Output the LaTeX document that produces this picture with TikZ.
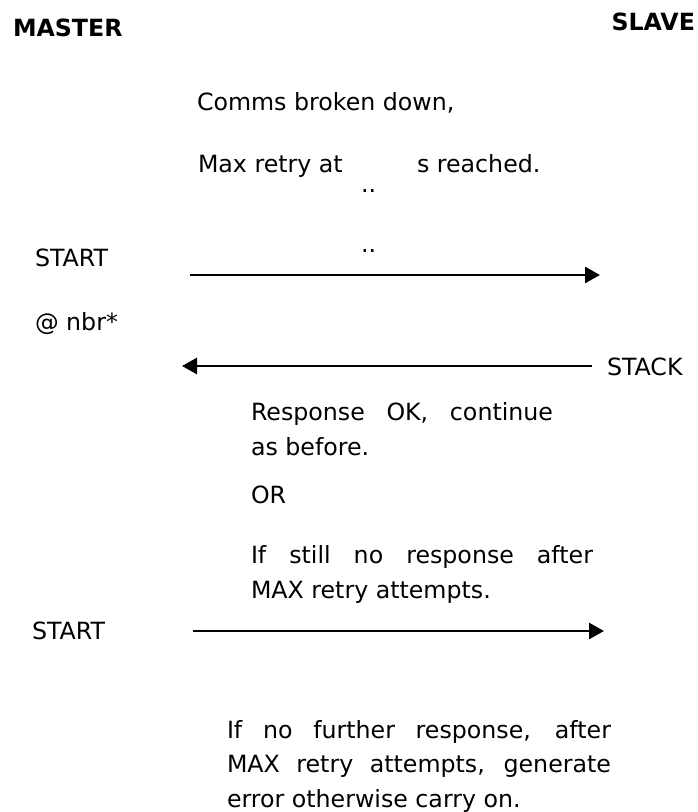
\documentclass[tikz,border=0pt]{standalone}
\usepackage{fontspec}
\setmainfont{DejaVu Sans}
\usetikzlibrary{arrows.meta}
\begin{document}
\begin{tikzpicture}[x=1pt,y=-1pt,
  txt/.style={anchor=base west,inner sep=0pt,outer sep=0pt,font=\fontsize{23.7}{28}\selectfont},
  btxt/.style={inner sep=0pt,outer sep=0pt,font=\fontsize{23.7}{28}\selectfont\bfseries},
  msg/.style={line width=2.6pt,-{Triangle[length=15pt,width=16pt]}}]
\useasboundingbox (0,0) rectangle (698,812);
% headers
\node[btxt,anchor=base west] (master) at (13,36) {MASTER};
\node[btxt,anchor=base east] (slave) at (695,30) {SLAVE};
% first note
\node[txt] (comms) at (197,110) {Comms broken down,};
\node[txt] (maxa) at (198,172) {Max retry at};
\node[txt] (maxb) at (417,172) {s reached.};
\node[txt] (dots1) at (361,192) {..};
\node[txt] (dots2) at (361,252) {..};
% left labels
\node[txt] (start1) at (35,266) {START};
\node[txt] (nbr) at (35,330) {@ nbr*};
\node[txt] (stack) at (607,375) {STACK};
\node[txt] (start2) at (32,639) {START};
% second note
\node[txt] (resp1) at (251,420) {\makebox[302pt][s]{Response OK, continue}};
\node[txt] (resp2) at (251,455) {as before.};
\node[txt] (or) at (251,503) {OR};
\node[txt] (still1) at (251,563) {\makebox[342pt][s]{If still no response after}};
\node[txt] (still2) at (251,598) {MAX retry attempts.};
% final note
\node[txt] (fin1) at (227,738) {\makebox[384pt][s]{If no further response, after}};
\node[txt] (fin2) at (227,772) {\makebox[384pt][s]{MAX retry attempts, generate}};
\node[txt] (fin3) at (227,807) {error otherwise carry on.};
% connectors
\coordinate (a1s) at (190,275);
\coordinate (a1e) at (600,275);
\coordinate (a2s) at (592,366);
\coordinate (a2e) at (182,366);
\coordinate (a3s) at (193,631);
\coordinate (a3e) at (604,631);
\draw[msg] (a1s) -- (a1e);
\draw[msg] (a2s) -- (a2e);
\draw[msg] (a3s) -- (a3e);
\end{tikzpicture}
\end{document}
